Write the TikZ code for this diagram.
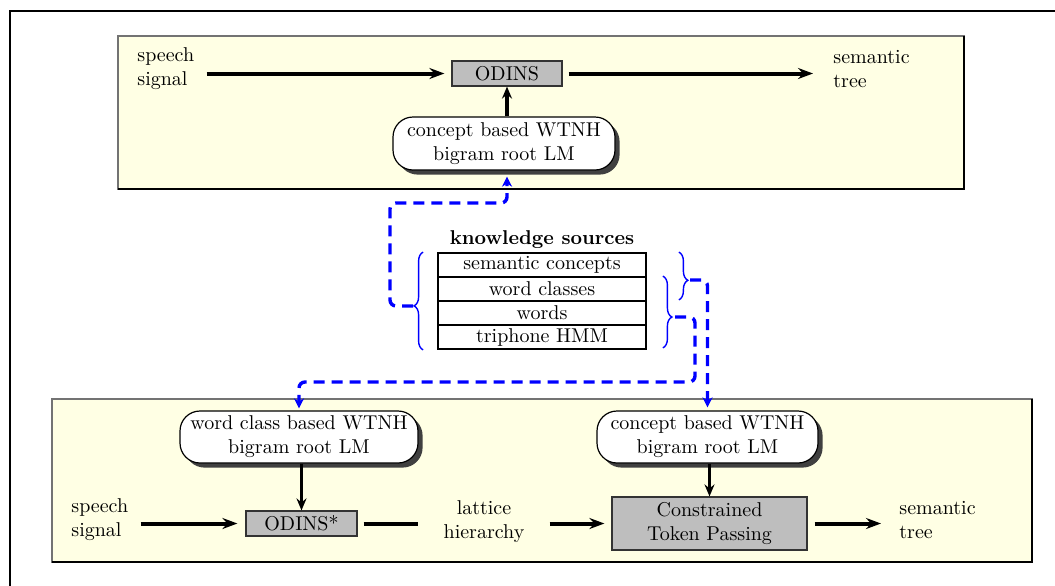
\documentclass[tikz,border=0pt]{standalone}
\usetikzlibrary{arrows.meta,shadows,decorations.pathreplacing,calc}
\definecolor{panelfill}{RGB}{255,255,228}
\definecolor{boxgray}{RGB}{190,190,190}

\begin{document}
\begin{tikzpicture}[x=0.5pt,y=-0.5pt,
  panel/.style={fill=panelfill, draw=black!55, line width=0.8pt},
  paneledge/.style={draw=black, line width=0.8pt},
  lmbox/.style={draw=black, fill=white, line width=0.6pt, rounded corners=10pt,
    align=center, inner sep=0pt,
    drop shadow={shadow xshift=2.3pt, shadow yshift=-2.3pt, fill=black!75, opacity=1}},
  procbox/.style={draw=black!80, fill=boxgray, line width=0.6pt, inner sep=0pt, align=center},
  txt/.style={inner sep=0pt, align=left, anchor=west},
  flow/.style={line width=2pt, -{Stealth[length=7.5pt,width=5.5pt,inset=2.5pt]}},
  flowline/.style={line width=2pt},
  feed/.style={line width=1.7pt, -{Stealth[length=6pt,width=5pt,inset=2pt]}},
  kdash/.style={draw=blue, line width=1.7pt, dash pattern=on 5.5pt off 3.5pt,
    rounded corners=3pt, -{Stealth[length=5pt,width=5pt,inset=1.5pt]}},
  kbrace/.style={draw=blue, line width=0.7pt, decorate, decoration={brace, amplitude=4.5pt}},
  ksrow/.style={draw=black, line width=0.9pt, minimum width=104pt, minimum height=12pt, inner sep=0pt},
]
\useasboundingbox (0,0) rectangle (1055,585);

% outer frame
\draw[line width=1pt] (10,600) -- (10,11) -- (1070,11);

% panels
\draw[panel] (118,36) rectangle (964,189);
\draw[paneledge] (964,36) -- (964,189) -- (118,189);
\draw[panel] (52,399) rectangle (1032,562);
\draw[paneledge] (1032,399) -- (1032,562) -- (52,562);

% upper recognizer
\node[txt] (sig1) at (137,68.5) {speech\\signal};
\node[procbox, minimum width=55pt, minimum height=12.5pt] (odins1) at (507,73.5) {ODINS};
\node[txt] (sem1) at (833,69) {semantic\\tree};
\node[lmbox, minimum width=111pt, minimum height=26.5pt] (ctop) at (504,143.5) {concept based WTNH\\bigram root LM};

% knowledge sources table
\node[font=\bfseries, inner sep=0pt] (kstitle) at (542,240) {knowledge sources};
\node[ksrow] (ks1) at (542,265) {semantic concepts};
\node[ksrow] (ks2) at (542,289) {word classes};
\node[ksrow] (ks3) at (542,313) {words};
\node[ksrow] (ks4) at (542,337) {triphone HMM};

% braces grouping the knowledge sources
\draw[kbrace, decoration={aspect=0.45}] ($(ks4.south west)+(-14,0)$) -- ($(ks1.north west)+(-14,0)$);
\draw[kbrace, decoration={aspect=0.59}] ($(ks1.north east)+(32,0)$) -- ($(ks2.south east)+(32,-2)$);
\draw[kbrace, decoration={aspect=0.57}] ($(ks2.north east)+(16,0)$) -- ($(ks4.south east)+(16,-2)$);

% lower two-pass recognizer
\node[lmbox, minimum width=119pt, minimum height=26pt] (wc) at (299,437) {word class based WTNH\\bigram root LM};
\node[lmbox, minimum width=110.5pt, minimum height=26pt] (cbot) at (707.5,437) {concept based WTNH\\bigram root LM};
\node[txt] (sig2) at (71,520) {speech\\signal};
\node[procbox, minimum width=55.5pt, minimum height=12.5pt] (odins2) at (301.5,523.5) {ODINS*};
\node[inner sep=0pt, align=center] (lat) at (484,522) {lattice\\hierarchy};
\node[procbox, minimum width=97.5pt, minimum height=26.5pt] (ctp) at (709.5,523.5) {Constrained\\Token Passing};
\node[txt] (sem2) at (899,520) {semantic\\tree};

% main data flow
\draw[flow, shorten <=6pt, shorten >=3.5pt] (sig1.east |- odins1.west) -- (odins1.west);
\draw[flow, shorten <=3pt, shorten >=10pt] (odins1.east) -- (sem1.west |- odins1.east);
\draw[feed] (ctop.north -| odins1.south) -- (odins1.south);

\draw[flow, shorten <=6pt, shorten >=4pt] (sig2.east |- odins2.west) -- (odins2.west);
\draw[flowline, shorten <=3pt, shorten >=12.5pt] (odins2.east) -- (lat.west |- odins2.east);
\draw[flow, shorten <=12.5pt, shorten >=3.5pt] (lat.east |- ctp.west) -- (ctp.west);
\draw[flow, shorten <=3.5pt, shorten >=9pt] (ctp.east) -- (sem2.west |- ctp.east);
\draw[feed] (wc.south -| odins2.north) -- (odins2.north);
\draw[feed] (cbot.south -| ctp.north) -- (ctp.north);

% knowledge source links
\coordinate (lbtip) at (413,306);
\coordinate (lbturn) at (390,203);
\coordinate (sbtip) at (690,280);
\coordinate (bbtip) at (675,317);
\coordinate (bbturn) at (695,382);
\draw[kdash] (lbtip) -| (lbturn) -| ($(ctop.south)+(3,6)$);
\draw[kdash, shorten >=1.5pt] (sbtip) -| (cbot.north);
\draw[kdash, shorten >=1pt] (bbtip) -| (bbturn) -| (wc.north);
\end{tikzpicture}
\end{document}
